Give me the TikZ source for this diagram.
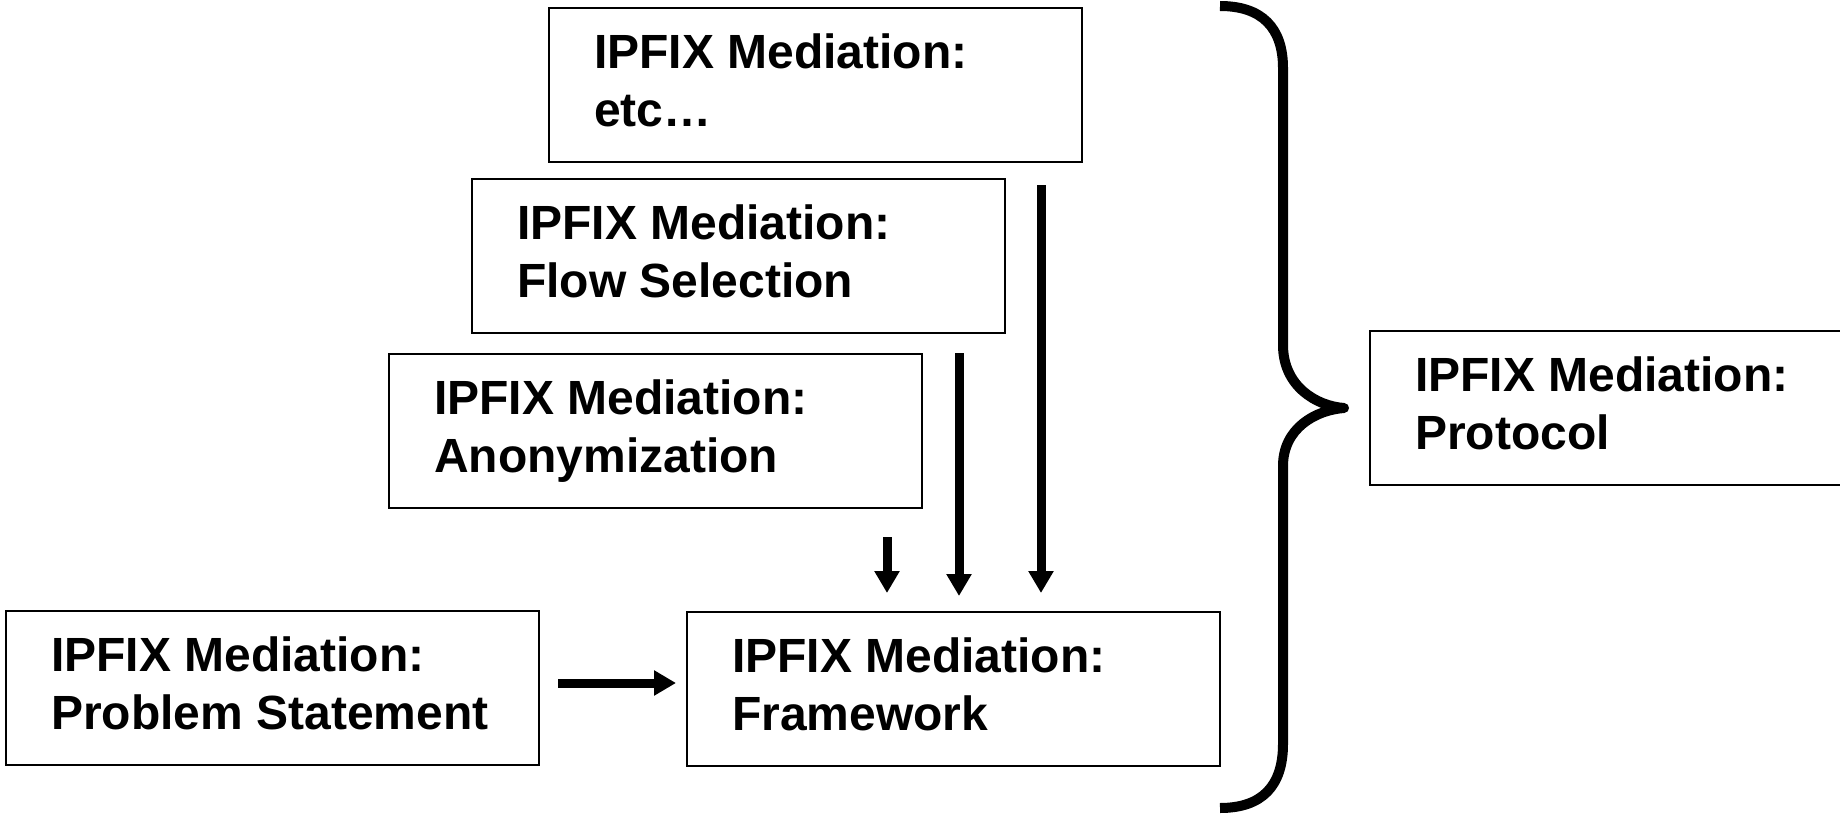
\documentclass[tikz,border=0pt]{standalone}
\usepackage{fontspec}
\setmainfont{Liberation Sans}
\usetikzlibrary{arrows.meta}
\begin{document}
\begin{tikzpicture}[x=1pt,y=-1pt,
  box/.style={draw, line width=2pt, minimum width=533pt, minimum height=154pt, anchor=north west, inner sep=0pt},
  lbl/.style={anchor=base west, align=left, inner sep=0pt, font=\fontsize{48}{58}\selectfont\bfseries},
  arr/.style={line width=9pt, -{Triangle[width=24pt,length=22pt]}},
  brace/.style={line width=10pt, line join=round}]
\useasboundingbox (0,0) rectangle (1840,816);
\node[box] (etc) at (548,7) {};
\node[box] (flow) at (471,178) {};
\node[box] (anon) at (388,353) {};
\node[box] (prob) at (5,610) {};
\node[box] (frame) at (686,611) {};
\node[box] (proto) at (1369,330) {};
\node[lbl] (etcT) at ([xshift=46pt,yshift=-119pt]etc.north west) {IPFIX Mediation:\\etc…};
\node[lbl] (flowT) at ([xshift=46pt,yshift=-119pt]flow.north west) {IPFIX Mediation:\\Flow Selection};
\node[lbl] (anonT) at ([xshift=46pt,yshift=-119pt]anon.north west) {IPFIX Mediation:\\Anonymization};
\node[lbl] (probT) at ([xshift=46pt,yshift=-119pt]prob.north west) {IPFIX Mediation:\\Problem Statement};
\node[lbl] (frameT) at ([xshift=46pt,yshift=-119pt]frame.north west) {IPFIX Mediation:\\Framework};
\node[lbl] (protoT) at ([xshift=46pt,yshift=-119pt]proto.north west) {IPFIX Mediation:\\Protocol};
\coordinate (a1s) at (1041,185);
\coordinate (a1e) at (1041,593);
\coordinate (a2s) at (959,353);
\coordinate (a2e) at (959,596);
\coordinate (a3s) at (887,537);
\coordinate (a3e) at (887,593);
\coordinate (hs) at (558,683);
\coordinate (he) at (676,683);
\draw[arr] (a1s) -- (a1e);
\draw[arr] (a2s) -- (a2e);
\draw[arr] (a3s) -- (a3e);
\draw[arr] (hs) -- (he);
\draw[brace] (1220,6) .. controls (1262,6) and (1283,28) .. (1283,68) -- (1283,345)
  .. controls (1283,386) and (1316,406) .. (1344,408)
  .. controls (1316,410) and (1283,428) .. (1283,466) -- (1283,744)
  .. controls (1283,786) and (1262,808) .. (1220,808);
\end{tikzpicture}
\end{document}
